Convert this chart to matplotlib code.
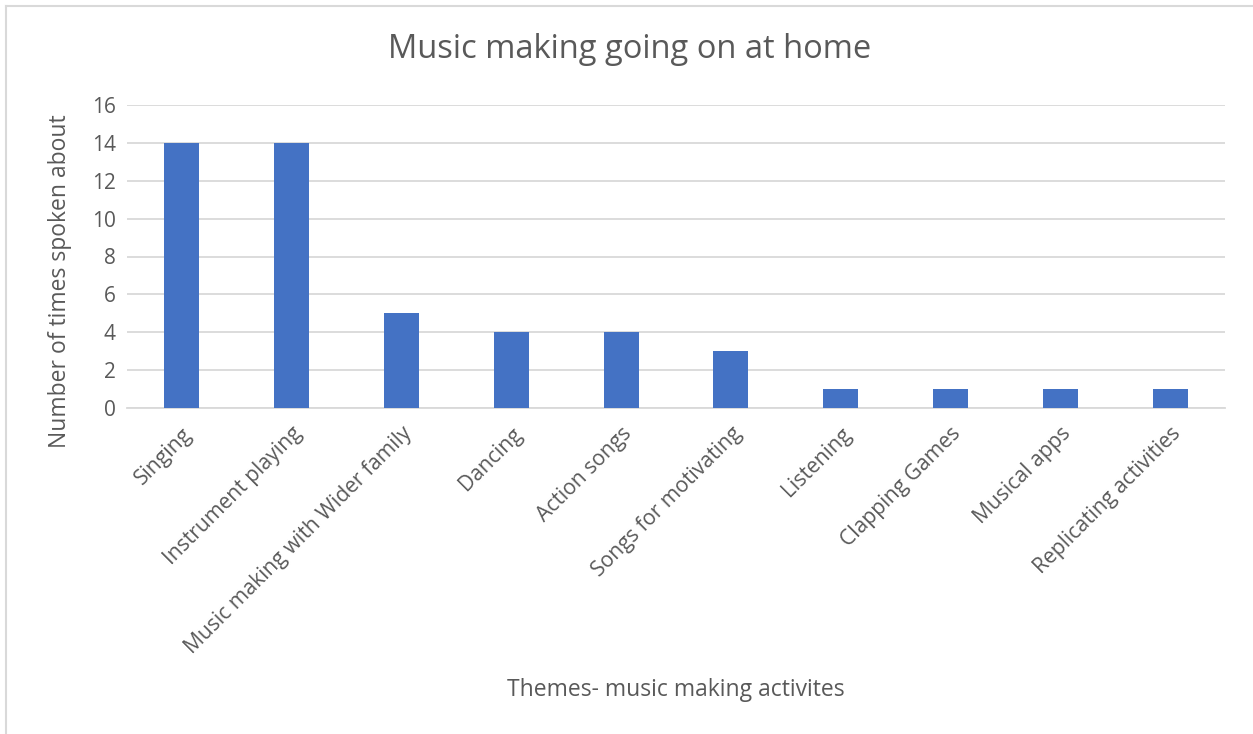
import matplotlib
matplotlib.use("Agg")
import matplotlib.pyplot as plt

categories = ["Singing", "Instrument playing", "Music making with Wider family",
              "Dancing", "Action songs", "Songs for motivating", "Listening",
              "Clapping Games", "Musical apps", "Replicating activities"]
counts = [14, 14, 5, 4, 4, 3, 1, 1, 1, 1]
y_ticks = [0, 2, 4, 6, 8, 10, 12, 14, 16]

plt.rcParams["font.family"] = ["Open Sans", "DejaVu Sans"]
text_color = "#595959"
grid_color = "#D9D9D9"
bar_color = "#4472C4"

W, H = 1253, 734
fig = plt.figure(figsize=(W / 100, H / 100), dpi=100)

# chart frame (top and left edges)
fig.add_artist(plt.Line2D([6 / W, 1], [1 - 6 / H, 1 - 6 / H], color=grid_color, lw=1.5))
fig.add_artist(plt.Line2D([6 / W, 6 / W], [0, 1 - 6 / H], color=grid_color, lw=1.5))

left, right = 127 / W, 1225 / W
top, bottom = 1 - 105 / H, 1 - 408 / H
ax = fig.add_axes([left, bottom, right - left, top - bottom])

x = list(range(len(categories)))
ax.bar(x, counts, width=0.32, color=bar_color, zorder=3)
ax.set_xlim(-0.5, len(categories) - 0.5)
ax.set_ylim(0, 16)
ax.set_yticks(y_ticks)
ax.yaxis.grid(True, color=grid_color, lw=1.3)
ax.set_axisbelow(True)
for s in ["top", "right", "left"]:
    ax.spines[s].set_visible(False)
ax.spines["bottom"].set_color(grid_color)
ax.spines["bottom"].set_linewidth(1.3)
ax.tick_params(axis="both", length=0, colors=text_color)
ax.tick_params(axis="y", pad=8, labelsize=15)
ax.set_xticks(x)
ax.set_xticklabels(categories, rotation=45, ha="right", rotation_mode="anchor")
ax.tick_params(axis="x", pad=11, labelsize=15.2)

fig.text(0.5 + 0.5 * 6 / W, 1 - 50 / H, "Music making going on at home",
         ha="center", va="center", fontsize=23.5, color=text_color)
fig.text(60 / W, 1 - 281 / H, "Number of times spoken about", rotation=90,
         ha="center", va="center", fontsize=16.5, color=text_color)
fig.text(676 / W, 1 - 690 / H, "Themes- music making activites",
         ha="center", va="center", fontsize=16.5, color=text_color)

fig.savefig("out.png", dpi=100, facecolor="white")
